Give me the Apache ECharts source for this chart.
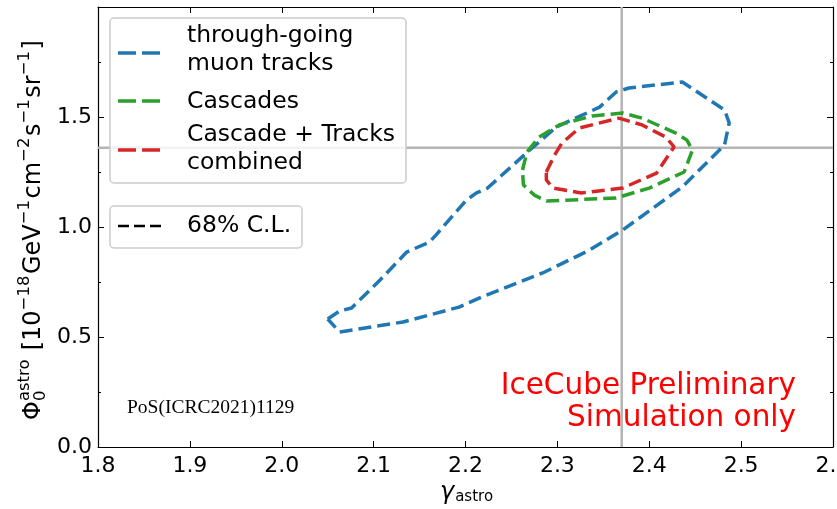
<!DOCTYPE html>
<html>
<head>
<meta charset="utf-8">
<script src="https://cdn.jsdelivr.net/npm/echarts@6/dist/echarts.min.js"></script>
<style>
  html, body { margin: 0; padding: 0; background: #fff; }
  #chart { width: 837px; height: 509px; }
</style>
</head>
<body>
<div id="chart"></div>
<script>
// 68% C.L. contours in the (gamma_astro, Phi_0^astro) plane
const trackGamma = [2.050, 2.063, 2.076, 2.107, 2.136, 2.161, 2.168, 2.201, 2.212, 2.224, 2.270, 2.299, 2.346, 2.364, 2.378, 2.436, 2.482, 2.487, 2.482, 2.436, 2.371, 2.335, 2.284, 2.259, 2.218, 2.193, 2.132, 2.063];
const trackPhi   = [0.582, 0.618, 0.632, 0.759, 0.886, 0.932, 0.964, 1.123, 1.155, 1.177, 1.350, 1.455, 1.545, 1.614, 1.632, 1.659, 1.532, 1.473, 1.373, 1.182, 0.986, 0.895, 0.791, 0.750, 0.682, 0.636, 0.568, 0.523];

const cascadeGamma = [2.262, 2.267, 2.280, 2.302, 2.338, 2.371, 2.392, 2.429, 2.441, 2.447, 2.438, 2.400, 2.364, 2.288, 2.275, 2.263];
const cascadePhi   = [1.259, 1.341, 1.409, 1.464, 1.505, 1.518, 1.495, 1.427, 1.395, 1.350, 1.250, 1.177, 1.132, 1.118, 1.145, 1.191];

const combinedGamma = [2.288, 2.297, 2.305, 2.324, 2.367, 2.392, 2.418, 2.427, 2.408, 2.371, 2.326, 2.295, 2.288];
const combinedPhi   = [1.250, 1.327, 1.382, 1.450, 1.495, 1.464, 1.409, 1.364, 1.245, 1.177, 1.155, 1.177, 1.214];

// injected (true) parameters of the simulation
const trueGamma = 2.37;
const truePhi = 1.36;

// axis ranges and ticks
const xMin = 1.8, xMax = 2.6, xStep = 0.1;
const yMin = 0.0, yMax = 2.0, yStep = 0.5;

const seriesNames = ['through-going\nmuon tracks', 'Cascades', 'Cascade + Tracks\ncombined'];
const clLabel = '68% C.L.';

const COLORS = ['#1f77b4', '#2ca02c', '#d62728'];
const FONT = '"DejaVu Sans", "Noto Sans", sans-serif';

function closedLoop(xs, ys) {
  const pts = xs.map((x, i) => [x, ys[i]]);
  pts.push(pts[0]);
  return pts;
}

const chart = echarts.init(document.getElementById('chart'), null, { renderer: 'canvas' });

// text measuring for the composed axis titles
const mctx = document.createElement('canvas').getContext('2d');
function textWidth(t, size, style) {
  mctx.font = (style || '') + ' ' + size + 'px "DejaVu Sans"';
  return mctx.measureText(t).width;
}

function txt(text, x, y, size, extra) {
  return Object.assign({
    type: 'text', x: x, y: y,
    style: Object.assign({ text: text, fontSize: size, fontFamily: FONT, fill: '#000',
      align: 'left', verticalAlign: 'middle', textAlign: 'left', textVerticalAlign: 'middle' },
      (extra && extra.style) || {})
  }, (extra && extra.el) || {});
}

// Phi_0^astro [10^-18 GeV^-1 cm^-2 s^-1 sr^-1], written along +x then rotated
function buildYTitle() {
  const main = 24, small = 16.5, supDy = -9, subDy = 7, supGap = 1.5;
  const parts = [
    { t: 'Φ', s: main, dy: 0 },
    { t: 'astro', s: small, dy: supDy, stack: '0' },
    { t: ' [10', s: main, dy: 0 },
    { t: '−18', s: small, dy: supDy },
    { t: 'GeV', s: main, dy: 0 },
    { t: '−1', s: small, dy: supDy },
    { t: 'cm', s: main, dy: 0 },
    { t: '−2', s: small, dy: supDy },
    { t: 's', s: main, dy: 0 },
    { t: '−1', s: small, dy: supDy },
    { t: 'sr', s: main, dy: 0 },
    { t: '−1', s: small, dy: supDy },
    { t: ']', s: main, dy: 0 }
  ];
  const children = [];
  let x = 0;
  parts.forEach(p => {
    children.push(txt(p.t, x, p.dy, p.s));
    let adv = textWidth(p.t, p.s);
    if (p.stack) {
      children.push(txt(p.stack, x, subDy, small));
      adv = Math.max(adv, textWidth(p.stack, small));
    }
    if (p.s === small) adv += supGap;
    x += adv;
  });
  return { type: 'group', x: 34, y: 420, rotation: Math.PI / 2, children: children, silent: true };
}

function buildXTitle() {
  const gw = textWidth('γ', 24, 'italic');
  const aw = textWidth('astro', 15);
  const x0 = 466 - (gw + aw) / 2;
  return {
    type: 'group', silent: true, children: [
      txt('γ', x0, 493, 24, { style: { fontStyle: 'italic' } }),
      txt('astro', x0 + gw + 1, 497, 15)
    ]
  };
}

function legendText(t, x, y) {
  return txt(t, x, y, 23.5, { el: { z: 101 } });
}
function legendDash(color, y, dash, width) {
  return { type: 'line', z: 101, shape: { x1: 118, y1: y, x2: 161, y2: y },
    style: { stroke: color, lineWidth: width, lineDash: dash } };
}

const legendGraphics = [
  { type: 'rect', z: 100, shape: { x: 110, y: 18, width: 296, height: 165, r: 4 },
    style: { fill: 'rgba(255,255,255,0.82)', stroke: '#cccccc', lineWidth: 1.5 } },
  legendDash(COLORS[0], 53, [18, 6], 3.5),
  legendText('through-going', 187, 36),
  legendText('muon tracks', 187, 64),
  legendDash(COLORS[1], 101, [18, 6], 3.5),
  legendText('Cascades', 187, 102),
  legendDash(COLORS[2], 150, [18, 6], 3.5),
  legendText('Cascade + Tracks', 187, 135),
  legendText('combined', 187, 163),
  { type: 'rect', z: 100, shape: { x: 110, y: 206, width: 192, height: 42, r: 4 },
    style: { fill: 'rgba(255,255,255,0.82)', stroke: '#cccccc', lineWidth: 1.5 } },
  legendDash('#000', 226, [11, 5], 2.5),
  legendText(clLabel, 187, 226)
];

const annotations = [
  txt('PoS(ICRC2021)1129', 127, 408, 19.5,
      { style: { fontFamily: '"Liberation Serif", "DejaVu Serif", serif' }, el: { z: 50 } }),
  txt('IceCube Preliminary', 796, 386, 29.5,
      { style: { fill: '#ff0000', align: 'right', textAlign: 'right' }, el: { z: 50 } }),
  txt('Simulation only', 796, 418, 29.5,
      { style: { fill: '#ff0000', align: 'right', textAlign: 'right' }, el: { z: 50 } })
];

const axisCommon = {
  axisLine: { show: true, onZero: false, lineStyle: { color: '#000', width: 1.2 } },
  axisTick: { show: true, inside: true, length: 6, lineStyle: { color: '#000', width: 1 } },
  splitLine: { show: false }
};

const lineStyleFor = (i) => ({ color: COLORS[i], width: 3.5, type: [13, 6] });

const option = {
  backgroundColor: '#fff',
  animation: false,
  grid: { left: 98, right: 4, top: 7, bottom: 62, containLabel: false, outerBoundsMode: 'none' },
  xAxis: [
    Object.assign({}, axisCommon, {
      type: 'value', position: 'bottom', min: xMin, max: xMax, interval: xStep,
      axisLabel: { fontSize: 22, fontFamily: FONT, color: '#000', margin: 8,
                   showMaxLabel: true, showMinLabel: true,
                   formatter: v => v.toFixed(1) }
    }),
    Object.assign({}, axisCommon, {
      type: 'value', position: 'top', min: xMin, max: xMax, interval: xStep,
      axisLabel: { show: false }
    })
  ],
  yAxis: [
    Object.assign({}, axisCommon, {
      type: 'value', position: 'left', min: yMin, max: yMax, interval: yStep,
      minorTick: { show: true, splitNumber: 2, length: 3, lineStyle: { color: '#000', width: 1 } },
      axisLabel: { fontSize: 22, fontFamily: FONT, color: '#000', margin: 6,
                   formatter: v => (v < yMax - 1e-9 ? v.toFixed(1) : '') }
    }),
    Object.assign({}, axisCommon, {
      type: 'value', position: 'right', min: yMin, max: yMax, interval: yStep,
      minorTick: { show: true, splitNumber: 2, length: 3, lineStyle: { color: '#000', width: 1 } },
      axisLabel: { show: false }
    })
  ],
  series: [
    // reference lines at the injected values
    { type: 'line', name: 'true gamma', silent: true, symbol: 'none', z: 1,
      data: [[trueGamma, yMin], [trueGamma, yMax]],
      lineStyle: { color: '#b4b4b4', width: 2.5 } },
    { type: 'line', name: 'true phi', silent: true, symbol: 'none', z: 1,
      data: [[xMin, truePhi], [xMax, truePhi]],
      lineStyle: { color: '#b4b4b4', width: 2.5 } },
    { type: 'line', name: seriesNames[0], symbol: 'none', z: 3,
      data: closedLoop(trackGamma, trackPhi), lineStyle: lineStyleFor(0) },
    { type: 'line', name: seriesNames[1], symbol: 'none', z: 3,
      data: closedLoop(cascadeGamma, cascadePhi), lineStyle: lineStyleFor(1) },
    { type: 'line', name: seriesNames[2], symbol: 'none', z: 3,
      data: closedLoop(combinedGamma, combinedPhi), lineStyle: lineStyleFor(2) }
  ],
  graphic: [buildYTitle(), buildXTitle()].concat(annotations, legendGraphics)
};

chart.setOption(option);
</script>
</body>
</html>
